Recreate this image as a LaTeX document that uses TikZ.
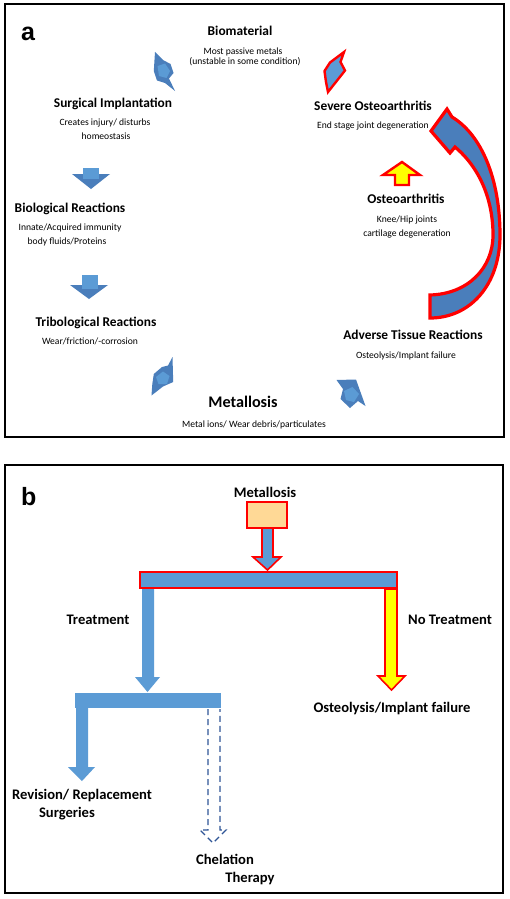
\documentclass[tikz,border=0pt]{standalone}
\usepackage{fontspec}
\setmainfont{Carlito}
\newfontfamily\arialf{Liberation Sans}
\definecolor{adark}{HTML}{4A7EBB}
\definecolor{alight}{HTML}{5B9BD5}
\definecolor{bblue}{HTML}{5B9BD5}
\definecolor{peach}{HTML}{FFD996}
\definecolor{dashblue}{HTML}{2F5597}
\definecolor{yel}{HTML}{FFFF00}
\definecolor{rd}{HTML}{FF0000}
\tikzset{
  hd/.style={font=\bfseries\fontsize{13.4}{15}\selectfont, inner sep=0pt, anchor=base},
  hdbig/.style={font=\bfseries\fontsize{16.2}{18}\selectfont, inner sep=0pt, anchor=base},
  sm/.style={font=\fontsize{9.6}{11}\selectfont, inner sep=0pt, anchor=base},
  hb/.style={font=\bfseries\fontsize{14.6}{17}\selectfont, inner sep=0pt, anchor=base},
  letter/.style={font=\arialf\bfseries\fontsize{25}{28}\selectfont, inner sep=0pt, anchor=base west},
  panel/.style={draw=black, line width=2.6pt},
  darkpart/.style={fill=adark, draw=none},
  lightpart/.style={fill=alight, draw=none},
  redpart/.style={fill=alight, draw=rd, line width=2.4pt, line join=miter},
  bluebar/.style={fill=bblue, draw=none},
  bluered/.style={fill=bblue, draw=rd, line width=1.6pt},
  yelred/.style={fill=yel, draw=rd, line width=1.6pt},
  dasharrow/.style={draw=dashblue, line width=1.1pt, dash pattern=on 6pt off 4pt},
}
\begin{document}
\begin{tikzpicture}[x=1pt,y=-1pt]
\useasboundingbox (0,0) rectangle (510,899);
\fill[white] (0,0) rectangle (510,899);
% ---------- panel a ----------
\draw[panel] (5,4) rectangle (504,437);
\node[letter] (la) at (21,41) {a};
\node[hd] (bio) at (240,36) {Biomaterial};
\node[sm] (bio1) at (243,55) {Most passive metals};
\node[sm] (bio2) at (245,65) {(unstable in some condition)};
\node[hd] (surg) at (113,107) {Surgical Implantation};
\node[sm] (surg1) at (105,125) {Creates injury/ disturbs};
\node[sm] (surg2) at (106,139) {homeostasis};
\node[hd] (biol) at (70,212) {Biological Reactions};
\node[sm] (biol1) at (70,230) {Innate/Acquired immunity};
\node[sm] (biol2) at (67,244) {body fluids/Proteins};
\node[hd] (trib) at (96,326) {Tribological Reactions};
\node[sm] (trib1) at (90,344) {Wear/friction/-corrosion};
\node[hdbig] (metal) at (243,407) {Metallosis};
\node[sm] (metal1) at (254,427) {Metal ions/ Wear debris/particulates};
\node[hd] (adv) at (413,339) {Adverse Tissue Reactions};
\node[sm] (adv1) at (406,358) {Osteolysis/Implant failure};
\node[hd] (oa) at (406,203) {Osteoarthritis};
\node[sm] (oa1) at (407,222) {Knee/Hip joints};
\node[sm] (oa2) at (407,236) {cartilage degeneration};
\node[hd] (soa) at (373,110) {Severe Osteoarthritis};
\node[sm] (soa1) at (373,128) {End stage joint degeneration};
% bolt arrow: Biomaterial -> Surgical
\fill[darkpart] (155,52) -- (163,60) -- (170.5,64) -- (173.5,73) -- (169,78.5) -- (175,91) -- (165,83) -- (157,80.5) -- (153.8,71) -- cycle;
\fill[lightpart] (157.5,66) -- (165,63.5) -- (170,71) -- (166.5,78) -- (159,76) -- cycle;
% down arrows
\fill[darkpart] (72,174) -- (110,174) -- (91,189) -- cycle;
\fill[lightpart] (83,168) rectangle (99,179);
\fill[darkpart] (70,285) -- (108,285) -- (89,299) -- cycle;
\fill[lightpart] (82,275) rectangle (98,289);
% bolt arrow: Tribological -> Metallosis
\fill[darkpart] (172.5,357) -- (173.2,382) -- (163,386.5) -- (151.5,395.5) -- (152.3,384) -- (153.8,374) -- (162,367) -- (168,365.5) -- cycle;
\fill[lightpart] (156,377) -- (163,371.5) -- (169.5,376) -- (167,384) -- (158.5,384) -- cycle;
% arrow: Metallosis -> Adverse
\fill[darkpart] (336.5,380) -- (356,379.5) -- (365.5,406) -- (358,401) -- (350,408) -- (340.5,399) -- (343,389) -- cycle;
\fill[lightpart] (344,391) -- (352.5,387) -- (359,394) -- (354,402) -- (346,400) -- cycle;
% big curved arrow Adverse -> Severe
\draw[fill=adark, draw=rd, line width=3.2pt, line join=miter]
  (430,318) .. controls (470,318) and (500,285) .. (500,235)
  .. controls (500,180) and (482,135) .. (452,117)
  -- (447,109) -- (431,131) -- (450,153) -- (455,147)
  .. controls (480,168) and (493,200) .. (493,235)
  .. controls (493,268) and (468,294) .. (430,295) -- cycle;
% yellow up arrow Osteoarthritis -> Severe
\draw[yelred, line width=2.4pt] (395,185) -- (395,175) -- (383,175) -- (402,162) -- (420,175) -- (409,175) -- (409,185) -- cycle;
% red bolt arrow Severe -> Biomaterial
\draw[redpart] (344,52) -- (340.5,62) -- (345,70.5) -- (337.5,80) -- (328,92) -- (326,82) -- (324.5,71) -- (330,62.5) -- cycle;
% ---------- panel b ----------
\draw[panel] (5,465) rectangle (503,893);
\node[letter] (lb) at (21,505) {b};
\node[hb] (bmet) at (265,497) {Metallosis};
\draw[fill=peach, draw=rd, line width=1.6pt] (247,502) rectangle (287,528);
\draw[bluered] (262,528) -- (273,528) -- (273,557) -- (281,557) -- (267.5,570) -- (253,557) -- (262,557) -- cycle;
\draw[bluered, line width=1.2pt] (140,572) rectangle (397,588);
\fill[bluebar] (142,589) -- (154,589) -- (154,677) -- (160,677) -- (147.5,692) -- (135,677) -- (142,677) -- cycle;
\draw[yelred] (385,589) -- (397,589) -- (397,676) -- (405,676) -- (391.5,690) -- (378,676) -- (385,676) -- cycle;
\node[hb] (treat) at (98,624) {Treatment};
\node[hb] (notreat) at (450,624) {No Treatment};
\node[hb] (osteo) at (392,712) {Osteolysis/Implant failure};
\fill[bluebar] (75,693) rectangle (221,708);
\fill[bluebar] (76,708) -- (88,708) -- (88,767) -- (95,767) -- (82,781) -- (68,767) -- (76,767) -- cycle;
\draw[dasharrow] (208,709) -- (208,830) -- (200,830) -- (213,843) -- (226,830) -- (220,830) -- (220,709);
\node[hb] (rev) at (82,799) {Revision/ Replacement};
\node[hb] (surgb) at (67,817) {Surgeries};
\node[hb] (chel) at (225,864) {Chelation};
\node[hb] (ther) at (250,882) {Therapy};
\end{tikzpicture}
\end{document}
